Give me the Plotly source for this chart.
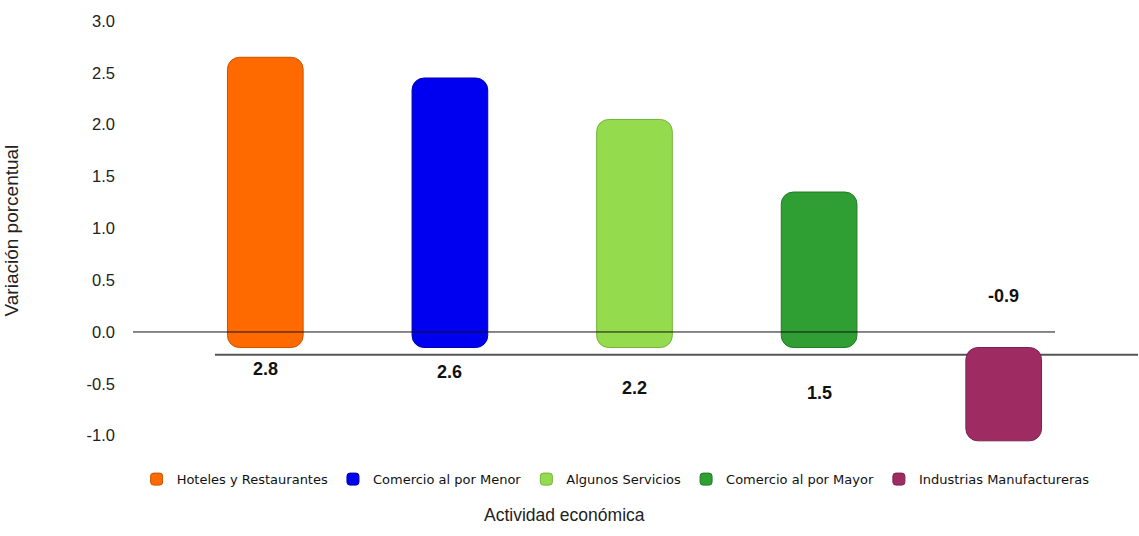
import plotly.graph_objects as go

categories = ["Hoteles y Restaurantes", "Comercio al por Menor", "Algunos Servicios",
              "Comercio al por Mayor", "Industrias Manufactureras"]
values = [2.8, 2.6, 2.2, 1.5, -0.9]
value_labels = ["2.8", "2.6", "2.2", "1.5", "-0.9"]
y_ticks = [-1.0, -0.5, 0.0, 0.5, 1.0, 1.5, 2.0, 2.5, 3.0]
y_tick_labels = ["-1.0", "-0.5", "0.0", "0.5", "1.0", "1.5", "2.0", "2.5", "3.0"]

# styles
colors = ["#FF6A00", "#0000F0", "#95DB4E", "#2F9E33", "#9E2C63"]
edge_colors = ["#C85200", "#0000B0", "#76B23C", "#237A27", "#7A224C"]
base_offset = -0.15          # 3D floor offset of the original chart
label_shift_px = [-37, -40, -56, -61, 36]

fig = go.Figure()
for cat, val, col, ec in zip(categories, values, colors, edge_colors):
    fig.add_trace(go.Bar(
        x=[cat], y=[val], base=base_offset, name=cat,
        marker=dict(color=col, line=dict(color=ec, width=1), cornerradius=12),
        width=0.41, showlegend=True,
    ))

for cat, lab, ys in zip(categories, value_labels, label_shift_px):
    fig.add_annotation(x=cat, y=0, xref="x", yref="y", text=f"<b>{lab}</b>",
                       showarrow=False, yshift=ys,
                       font=dict(family="Liberation Sans, Arial", size=18, color="#111111"))

# back zero line (above bars) and front floor line (below bars)
fig.add_shape(type="line", xref="paper", yref="y", x0=-0.0433, x1=0.9556, y0=0, y1=0,
              line=dict(color="#111111", width=1), layer="above")
fig.add_shape(type="line", xref="paper", yref="y", x0=0.0455, x1=1.0455, y0=-0.22, y1=-0.22,
              line=dict(color="#555555", width=2), layer="below")

fig.add_annotation(text="Variación porcentual", xref="paper", yref="paper",
                   x=-0.1885, y=0.506, textangle=-90, showarrow=False,
                   font=dict(family="Liberation Sans, Arial", size=19, color="#222222"))
fig.add_annotation(text="Actividad económica", xref="paper", yref="paper",
                   x=0.4247, y=-0.19, showarrow=False,
                   font=dict(family="Liberation Sans, Arial", size=17.5, color="#222222"))

fig.update_layout(
    width=1139, height=536,
    margin=dict(l=173, r=43, t=17, b=89.5),
    paper_bgcolor="white", plot_bgcolor="white",
    xaxis=dict(showticklabels=False, showgrid=False, zeroline=False, showline=False, ticks=""),
    yaxis=dict(range=[-1.1, 3.0], tickvals=y_ticks, ticktext=y_tick_labels,
               showgrid=False, zeroline=False, showline=False, ticks="",
               ticklabelstandoff=57,
               tickfont=dict(family="Liberation Sans, Arial", size=16.5, color="#222222")),
    legend=dict(orientation="h", x=-0.0394, y=-0.078, xanchor="left", yanchor="middle",
                font=dict(family="DejaVu Sans, Verdana", size=13, color="#111111"),
                itemclick=False, tracegroupgap=0),
    showlegend=True,
)

fig.write_html("out.html", config={"displayModeBar": False},
               post_script="document.body.style.margin='0';")
